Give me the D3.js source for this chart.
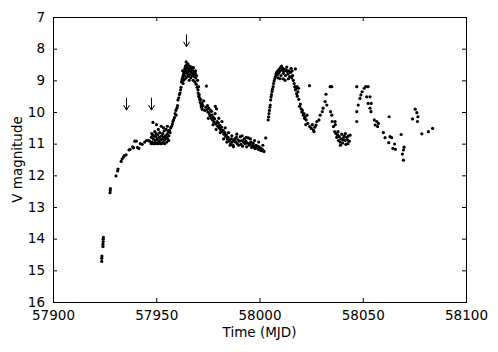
<!DOCTYPE html>
<html>
<head>
<meta charset="utf-8">
<script src="https://cdn.jsdelivr.net/npm/d3@7"></script>
<style>
  body { margin: 0; background: #fff; }
  text { font-family: "DejaVu Sans", sans-serif; }
</style>
</head>
<body>
<div id="chart"></div>
<script>
// light curve, [MJD, V mag], split by phase of the outburst
const earlyRise = [
  [57923.6,14.72],[57923.6,14.62],[57923.7,14.55],[57924.2,14.25],[57924.2,14.18],[57924.3,14.10],
  [57924.3,14.02],[57924.4,13.96],[57927.6,12.55],[57927.7,12.48],[57927.8,12.42],[57930.5,12.02],
  [57931.3,11.86],[57931.5,11.80],[57933.0,11.56],[57933.5,11.48],[57934.2,11.42],[57934.6,11.38],
  [57935.4,11.35],[57936.8,11.20],[57937.3,11.18],[57938.6,11.10],[57939.0,11.13],[57939.6,10.92],
  [57940.3,10.92],[57940.9,11.12],[57941.6,11.15],[57942.3,11.00],[57943.2,11.02],[57944.4,10.95],
  [57945.3,10.90],[57946.2,10.90],[57946.8,10.92]
];
const plateau = [
  [57947.5,11.00],[57947.6,10.80],[57947.8,10.68],[57948.0,10.95],[57948.2,10.72],[57948.4,10.33],
  [57948.6,10.85],[57948.9,10.75],[57949.1,11.00],[57949.3,10.62],[57949.5,10.90],[57949.8,10.78],
  [57950.0,10.68],[57950.3,10.98],[57950.5,10.85],[57950.8,10.72],[57951.0,10.55],[57951.2,10.92],
  [57951.5,10.80],[57951.7,10.65],[57952.0,10.98],[57952.2,10.88],[57952.4,10.45],[57952.6,10.75],
  [57952.9,10.85],[57953.1,10.68],[57953.3,10.95],[57953.6,10.80],[57953.8,10.60],[57954.0,10.88],
  [57954.3,10.75],[57954.5,10.82],[57954.8,10.55],[57955.0,10.78],[57955.3,10.70],[57955.6,10.85],
  [57955.8,10.62],[57956.1,10.75],[57956.4,10.58],[57956.7,10.65],[57957.0,10.50],[57957.4,10.45],
  [57947.9,10.98],[57948.7,11.00],[57949.6,10.99],[57950.6,11.00],[57951.4,10.99],[57952.3,11.00],
  [57953.0,10.99],[57954.1,11.00],[57955.1,10.95],[57956.0,10.90],[57950.1,10.40],[57953.5,10.50],
  [57955.4,10.45],
  [57957.8,10.38],[57958.1,10.30],[57958.4,10.25],[57958.8,10.18],[57959.1,10.05],[57959.5,9.95],
  [57959.6,10.10],[57960.0,9.88],[57960.3,9.80],[57960.5,9.62],[57960.9,9.55],[57961.2,9.45],
  [57961.5,9.40],[57961.8,9.30],[57962.0,9.22],[57962.2,9.05],[57962.5,8.98],[57962.7,8.92],
  [57963.0,8.85],[57963.2,9.00],[57963.3,8.78]
];
const firstPeak = [
  [57963.5,8.70],[57963.7,8.85],[57963.9,8.62],[57964.1,8.55],[57964.2,8.75],[57964.4,8.68],
  [57964.5,8.42],[57964.6,8.90],[57964.8,8.50],[57965.0,8.78],[57965.1,8.60],[57965.3,8.48],
  [57965.5,8.72],[57965.7,8.85],[57965.9,8.65],[57966.1,8.55],[57966.3,8.80],[57966.5,8.70],
  [57966.7,8.92],[57966.9,8.62],[57967.1,8.75],[57967.3,8.85],[57967.5,8.68],[57967.7,8.78],
  [57967.9,9.00],[57968.1,8.72],[57968.3,8.88],[57968.5,8.82],[57968.7,9.05],[57968.9,8.78],
  [57969.1,8.92],[57969.3,9.12],[57969.5,8.85],[57969.8,9.22],[57970.0,9.00],[57970.2,9.30],
  [57964.0,8.95],[57965.2,8.88],[57966.0,9.00],[57967.0,8.58],[57968.0,8.60],[57969.0,8.70],
  [57963.0,9.10],[57962.8,8.70],
  [57970.5,9.20],[57970.8,9.45],[57970.3,9.40],[57970.6,9.50],[57970.9,9.55],[57971.1,9.62],
  [57971.3,9.70],[57971.5,9.60],[57971.7,9.78],[57971.9,9.85],[57972.1,9.72],[57972.3,9.92],
  [57972.6,9.80],[57974.3,9.18],[57974.0,9.85],[57974.5,9.92],[57974.8,9.80],[57975.0,10.00],
  [57975.4,9.88],[57975.7,10.05],[57976.0,10.12],[57976.3,9.95],[57976.6,10.20],[57977.0,10.10],
  [57977.3,10.25],[57977.7,10.18],[57978.0,10.32],[57978.3,10.22],[57978.6,9.82],[57978.9,10.38],
  [57979.2,9.90],[57979.5,10.30],[57979.8,10.45],[57980.1,10.35],[57980.5,10.50],[57980.8,10.42],
  [57981.2,10.55],[57981.6,10.48],[57982.0,10.62],[57982.4,10.58],[57982.8,10.70],[57983.2,10.65],
  [57983.6,10.78],[57984.0,10.72],[57984.4,10.85],[57984.8,10.80],[57985.2,10.92],[57985.6,10.88],
  [57986.0,11.00],[57986.4,10.85],[57986.8,10.95],[57987.2,11.05],[57987.6,10.90],
  [57973.0,9.65],[57973.5,9.95],[57975.2,10.20],[57976.8,9.98],[57977.5,10.40],[57978.5,10.05],
  [57979.0,10.55],[57980.3,10.20],[57981.0,10.65],[57981.8,10.30],[57982.6,10.85],[57983.4,10.50],
  [57984.2,10.95],[57985.0,10.65],[57985.8,11.05],[57986.6,10.75],[57987.4,11.10]
];
const minimum = [
  [57988.0,10.85],[57988.4,10.95],[57988.8,10.80],[57989.2,11.00],[57989.5,10.88],[57989.9,11.05],
  [57990.3,10.92],[57990.7,10.78],[57991.0,11.02],[57991.4,10.90],[57991.8,11.08],[57992.2,10.95],
  [57992.6,10.85],[57993.0,11.00],[57993.4,10.92],[57993.8,11.10],[57994.2,10.98],[57994.6,10.82],
  [57995.0,11.05],[57995.4,11.00],[57995.8,10.95],[57996.2,11.12],[57996.6,11.05],[57997.0,10.98],
  [57997.4,11.10],[57997.8,11.15],[57998.2,11.05],[57998.6,11.12],[57999.0,11.08],[57999.4,11.18],
  [57999.8,11.10],[58000.2,11.20],[58000.6,11.15],[58001.0,11.22],[58001.4,11.18],[58001.8,11.22],
  [58002.2,11.25],[58003.0,10.82],
  [57989.0,10.70],[57991.6,10.75],[57993.6,10.80],[57995.6,10.85],[57997.6,10.90],[57999.6,10.95],
  [58001.6,11.05]
];
const secondPeak = [
  [58004.2,10.25],[58004.4,10.15],[58004.6,10.05],[58004.8,9.95],[58005.0,9.85],[58005.2,9.78],
  [58005.4,9.62],[58005.6,9.52],[58005.8,9.45],[58006.1,9.35],[58006.3,9.28],[58006.6,9.20],
  [58006.8,9.10],[58007.1,9.02],[58007.4,8.95],[58007.7,8.88],[58008.0,8.80],[58008.3,8.75],
  [58008.6,8.82],[58008.9,8.70],[58009.2,8.78],[58009.5,8.65],[58009.8,8.72],[58010.1,8.60],
  [58010.4,8.85],[58010.7,8.55],[58011.0,8.68],[58011.3,8.62],[58011.6,8.78],[58011.9,8.70],
  [58012.2,8.65],[58012.6,8.85],[58013.0,8.68],[58013.4,8.72],[58013.8,8.80],[58014.2,8.70],
  [58014.6,8.88],[58015.0,8.75],[58015.3,8.62],[58015.6,8.92],[58016.0,8.85],[58016.4,9.00],
  [58009.0,8.92],[58010.0,8.95],[58011.5,8.95],[58012.4,9.00],[58013.2,8.58],[58014.0,8.95],
  [58015.8,8.70],[58017.4,8.64],[58018.2,9.20],[58018.6,9.36],
  [58016.8,9.10],[58017.1,9.20],[58017.4,9.30],[58017.7,9.25],[58018.0,9.42],[58018.3,9.50],
  [58018.9,9.25],[58019.0,9.60],[58019.4,9.82],[58019.8,9.75],[58020.2,9.90],[58020.5,10.00],
  [58020.8,9.95],[58021.2,10.10],[58021.5,10.05],[58021.8,10.20],[58022.1,10.15],[58024.2,9.17],
  [58022.6,10.25],[58023.4,10.36],[58024.3,10.46],[58025.1,10.52],[58026.1,10.57],[58026.8,10.48],
  [58022.4,10.40],[58023.0,10.10],[58025.6,10.40],[58026.4,10.62],
  [58027.4,10.41],[58027.8,10.30],[58028.8,10.25],[58029.4,10.10],[58030.4,9.99],[58030.8,9.88],
  [58031.8,9.67],[58032.2,9.44],[58032.6,9.78],[58034.2,9.20],[58035.0,9.20],[58034.4,9.99],
  [58035.0,10.10],[58035.2,10.30],[58035.8,10.46],[58036.4,10.62],[58036.6,10.30],[58036.7,10.40]
];
const lateSeason = [
  [58037.0,10.68],[58037.4,10.80],[58037.8,10.72],[58038.2,10.90],[58038.6,10.78],[58039.0,10.95],
  [58039.4,10.85],[58039.8,10.70],[58040.2,10.98],[58040.6,10.82],[58041.0,10.75],[58041.4,10.90],
  [58041.8,11.02],[58042.2,10.80],[58042.6,10.88],[58043.0,10.76],[58043.5,10.92],[58043.9,10.73],
  [58038.0,10.62],[58039.2,11.05],[58040.4,10.88],[58041.6,10.68],[58042.8,11.00],
  [58047.1,10.30],[58047.1,9.99],[58047.1,9.20],[58047.8,9.78],[58048.6,9.57],[58049.1,9.46],
  [58049.7,9.36],[58050.7,9.25],[58051.4,9.20],[58052.6,9.20],[58051.9,9.52],[58053.5,9.52],
  [58052.6,9.73],[58054.1,9.73],[58053.5,9.88],[58054.0,9.99],[58055.6,10.25],[58056.8,10.30],
  [58056.0,10.41],[58057.6,10.36],[58057.2,10.46],[58062.8,10.15],[58060.0,10.65],[58060.8,10.81],
  [58063.2,10.78],[58064.0,10.81],[58062.6,10.97],[58065.4,11.01],[58064.6,11.15],[58065.8,11.18],
  [58068.6,10.71],[58070.0,11.11],[58069.7,11.20],[58069.2,11.33],[58069.7,11.52],[58074.1,10.22],
  [58075.4,9.91],[58076.2,10.02],[58076.7,10.15],[58076.5,10.30],[58078.6,10.69],[58081.8,10.62],
  [58083.8,10.52]
];
const segments = [earlyRise, plateau, firstPeak, minimum, secondPeak, lateSeason];

// arrows marking the epochs of interest
const arrowMjd = [57935.4, 57947.3, 57964.3];
const arrowFrom = [9.55, 9.55, 7.55];
const arrowTo = [9.94, 9.94, 7.94];

const xTicks = [57900, 57950, 58000, 58050, 58100];
const yTicks = [7, 8, 9, 10, 11, 12, 13, 14, 15, 16];

var margin = {top: 17, right: 32, bottom: 50, left: 53};
var W = 498, H = 352;
var width = W - margin.left - margin.right;
var height = H - margin.top - margin.bottom;

var svg = d3.select("#chart").append("svg")
    .attr("width", W)
    .attr("height", H);

var g = svg.append("g")
    .attr("transform", "translate(" + margin.left + "," + margin.top + ")");

var x = d3.scaleLinear().domain([57900, 58100]).range([0, width]);
var y = d3.scaleLinear().domain([7, 16]).range([0, height]);  // magnitudes grow downward

// all points in one layer
var pts = segments.flat();
g.append("g").selectAll("circle")
    .data(pts)
    .enter().append("circle")
    .attr("cx", d => x(d[0]))
    .attr("cy", d => y(d[1]))
    .attr("r", 1.6)
    .attr("fill", "#000");

// arrows
var arrows = g.append("g").attr("stroke", "#000").attr("fill", "none").attr("stroke-width", 1);
arrowMjd.forEach(function (m, i) {
    var ax = Math.round(x(m)) + 0.5, y0 = y(arrowFrom[i]), y1 = y(arrowTo[i]);
    arrows.append("line").attr("x1", ax).attr("x2", ax).attr("y1", y0).attr("y2", y1);
    arrows.append("path").attr("d", "M" + (ax - 3) + "," + (y1 - 5) + "L" + ax + "," + y1 + "L" + (ax + 3) + "," + (y1 - 5));
});

// axes with inward ticks on all four sides
var tickLen = 4;
g.append("g")
    .attr("class", "x axis")
    .attr("transform", "translate(0," + height + ")")
    .call(d3.axisBottom(x).tickValues(xTicks).tickSize(-tickLen).tickPadding(8).tickFormat(d3.format("d")));
g.append("g")
    .attr("class", "x2 axis")
    .call(d3.axisTop(x).tickValues(xTicks).tickSize(-tickLen).tickFormat(""));
g.append("g")
    .attr("class", "y axis")
    .call(d3.axisLeft(y).tickValues(yTicks).tickSize(-tickLen).tickPadding(8).tickFormat(d3.format("d")));
g.append("g")
    .attr("class", "y2 axis")
    .attr("transform", "translate(" + width + ",0)")
    .call(d3.axisRight(y).tickValues(yTicks).tickSize(-tickLen).tickFormat(""));

g.selectAll(".axis .domain").remove();
g.selectAll(".axis text")
    .attr("font-size", "13.5px")
    .attr("fill", "#000");
g.selectAll(".axis line").attr("stroke", "#000");

g.append("rect")
    .attr("x", 0.5).attr("y", 0.5)
    .attr("width", width).attr("height", height)
    .attr("fill", "none")
    .attr("stroke", "#000")
    .attr("stroke-width", 1);

// axis titles
svg.append("text")
    .attr("x", margin.left + width / 2)
    .attr("y", 337)
    .attr("text-anchor", "middle")
    .attr("font-size", "13.5px")
    .text("Time (MJD)");

svg.append("text")
    .attr("transform", "translate(22," + (margin.top + height / 2) + ") rotate(-90)")
    .attr("text-anchor", "middle")
    .attr("font-size", "13.5px")
    .text("V magnitude");
</script>
</body>
</html>
